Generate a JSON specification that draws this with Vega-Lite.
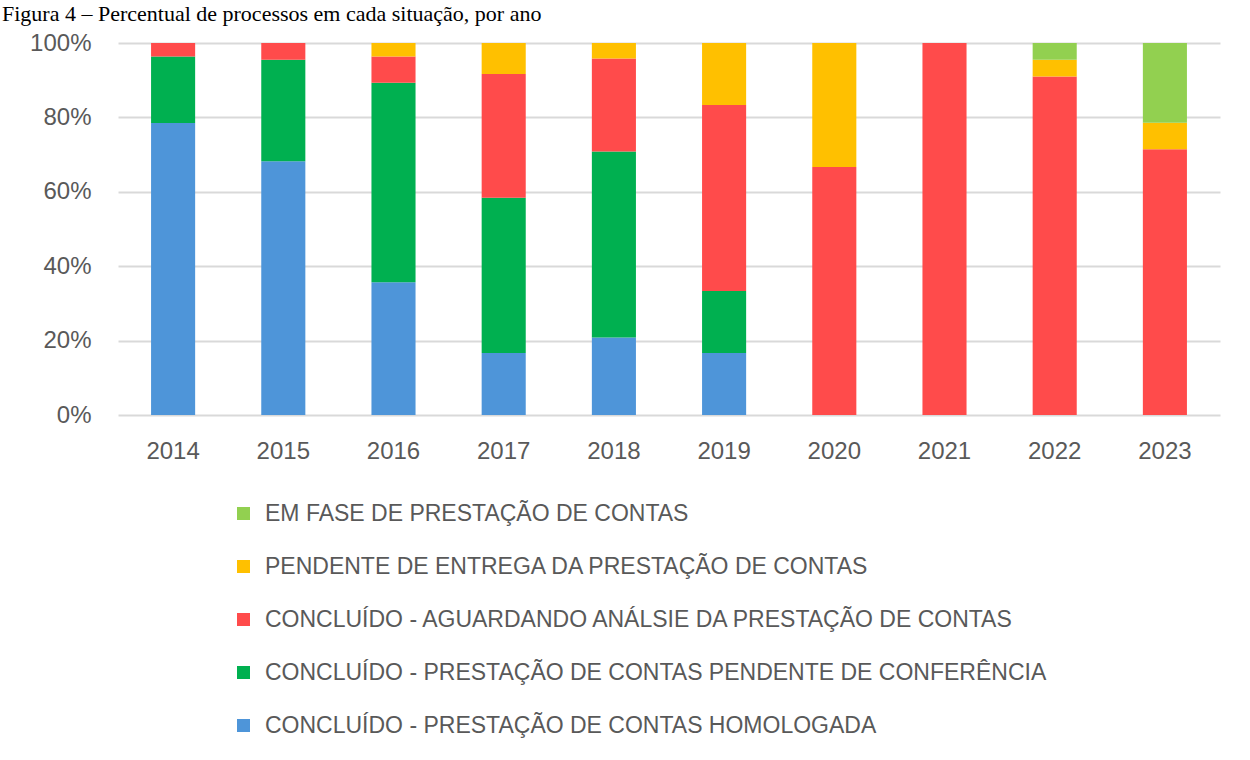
{
  "$schema": "https://vega.github.io/schema/vega-lite/v6.json",
  "width": 1102,
  "height": 372,
  "autosize": {"type": "none"},
  "padding": {"left": 118, "top": 43, "right": 30, "bottom": 345},
  "background": "white",
  "title": {
    "text": "Figura 4 – Percentual de processos em cada situação, por ano",
    "font": "Liberation Serif",
    "fontSize": 22,
    "fontWeight": "normal",
    "color": "black",
    "anchor": "start",
    "frame": "group",
    "baseline": "alphabetic",
    "dx": -116,
    "dy": 18,
    "offset": 6
  },
  "config": {
    "view": {"stroke": null},
    "font": "Liberation Sans"
  },
  "data": {
    "values": [
      {"ano": "2014", "situacao": "CONCLUÍDO - PRESTAÇÃO DE CONTAS  HOMOLOGADA", "ordem": 1, "pct": 78.6},
      {"ano": "2014", "situacao": "CONCLUÍDO - PRESTAÇÃO DE CONTAS PENDENTE DE CONFERÊNCIA", "ordem": 2, "pct": 17.9},
      {"ano": "2014", "situacao": "CONCLUÍDO - AGUARDANDO ANÁLSIE DA PRESTAÇÃO DE CONTAS", "ordem": 3, "pct": 3.6},
      {"ano": "2015", "situacao": "CONCLUÍDO - PRESTAÇÃO DE CONTAS  HOMOLOGADA", "ordem": 1, "pct": 68.2},
      {"ano": "2015", "situacao": "CONCLUÍDO - PRESTAÇÃO DE CONTAS PENDENTE DE CONFERÊNCIA", "ordem": 2, "pct": 27.3},
      {"ano": "2015", "situacao": "CONCLUÍDO - AGUARDANDO ANÁLSIE DA PRESTAÇÃO DE CONTAS", "ordem": 3, "pct": 4.5},
      {"ano": "2016", "situacao": "CONCLUÍDO - PRESTAÇÃO DE CONTAS  HOMOLOGADA", "ordem": 1, "pct": 35.7},
      {"ano": "2016", "situacao": "CONCLUÍDO - PRESTAÇÃO DE CONTAS PENDENTE DE CONFERÊNCIA", "ordem": 2, "pct": 53.6},
      {"ano": "2016", "situacao": "CONCLUÍDO - AGUARDANDO ANÁLSIE DA PRESTAÇÃO DE CONTAS", "ordem": 3, "pct": 7.1},
      {"ano": "2016", "situacao": "PENDENTE DE ENTREGA DA PRESTAÇÃO DE CONTAS", "ordem": 4, "pct": 3.6},
      {"ano": "2017", "situacao": "CONCLUÍDO - PRESTAÇÃO DE CONTAS  HOMOLOGADA", "ordem": 1, "pct": 16.7},
      {"ano": "2017", "situacao": "CONCLUÍDO - PRESTAÇÃO DE CONTAS PENDENTE DE CONFERÊNCIA", "ordem": 2, "pct": 41.7},
      {"ano": "2017", "situacao": "CONCLUÍDO - AGUARDANDO ANÁLSIE DA PRESTAÇÃO DE CONTAS", "ordem": 3, "pct": 33.3},
      {"ano": "2017", "situacao": "PENDENTE DE ENTREGA DA PRESTAÇÃO DE CONTAS", "ordem": 4, "pct": 8.3},
      {"ano": "2018", "situacao": "CONCLUÍDO - PRESTAÇÃO DE CONTAS  HOMOLOGADA", "ordem": 1, "pct": 20.8},
      {"ano": "2018", "situacao": "CONCLUÍDO - PRESTAÇÃO DE CONTAS PENDENTE DE CONFERÊNCIA", "ordem": 2, "pct": 50.0},
      {"ano": "2018", "situacao": "CONCLUÍDO - AGUARDANDO ANÁLSIE DA PRESTAÇÃO DE CONTAS", "ordem": 3, "pct": 25.0},
      {"ano": "2018", "situacao": "PENDENTE DE ENTREGA DA PRESTAÇÃO DE CONTAS", "ordem": 4, "pct": 4.2},
      {"ano": "2019", "situacao": "CONCLUÍDO - PRESTAÇÃO DE CONTAS  HOMOLOGADA", "ordem": 1, "pct": 16.7},
      {"ano": "2019", "situacao": "CONCLUÍDO - PRESTAÇÃO DE CONTAS PENDENTE DE CONFERÊNCIA", "ordem": 2, "pct": 16.7},
      {"ano": "2019", "situacao": "CONCLUÍDO - AGUARDANDO ANÁLSIE DA PRESTAÇÃO DE CONTAS", "ordem": 3, "pct": 50.0},
      {"ano": "2019", "situacao": "PENDENTE DE ENTREGA DA PRESTAÇÃO DE CONTAS", "ordem": 4, "pct": 16.7},
      {"ano": "2020", "situacao": "CONCLUÍDO - AGUARDANDO ANÁLSIE DA PRESTAÇÃO DE CONTAS", "ordem": 3, "pct": 66.7},
      {"ano": "2020", "situacao": "PENDENTE DE ENTREGA DA PRESTAÇÃO DE CONTAS", "ordem": 4, "pct": 33.3},
      {"ano": "2021", "situacao": "CONCLUÍDO - AGUARDANDO ANÁLSIE DA PRESTAÇÃO DE CONTAS", "ordem": 3, "pct": 100.0},
      {"ano": "2022", "situacao": "CONCLUÍDO - AGUARDANDO ANÁLSIE DA PRESTAÇÃO DE CONTAS", "ordem": 3, "pct": 90.9},
      {"ano": "2022", "situacao": "PENDENTE DE ENTREGA DA PRESTAÇÃO DE CONTAS", "ordem": 4, "pct": 4.5},
      {"ano": "2022", "situacao": "EM FASE DE PRESTAÇÃO DE CONTAS", "ordem": 5, "pct": 4.5},
      {"ano": "2023", "situacao": "CONCLUÍDO - AGUARDANDO ANÁLSIE DA PRESTAÇÃO DE CONTAS", "ordem": 3, "pct": 71.4},
      {"ano": "2023", "situacao": "PENDENTE DE ENTREGA DA PRESTAÇÃO DE CONTAS", "ordem": 4, "pct": 7.1},
      {"ano": "2023", "situacao": "EM FASE DE PRESTAÇÃO DE CONTAS", "ordem": 5, "pct": 21.4}
    ]
  },
  "mark": {"type": "bar"},
  "encoding": {
    "x": {
      "field": "ano",
      "type": "ordinal",
      "scale": {"paddingInner": 0.6, "paddingOuter": 0.3},
      "axis": {
        "title": null,
        "labelAngle": 0,
        "domain": false,
        "ticks": false,
        "labelFontSize": 24,
        "labelColor": "#595959",
        "labelPadding": 24,
        "labelFont": "Liberation Sans"
      }
    },
    "y": {
      "field": "pct",
      "type": "quantitative",
      "stack": "normalize",
      "scale": {"domain": [0, 1]},
      "axis": {
        "title": null,
        "format": ".0%",
        "values": [0, 0.2, 0.4, 0.6, 0.8, 1],
        "domain": false,
        "ticks": false,
        "gridColor": "#D9D9D9",
        "gridWidth": 2,
        "labelFontSize": 24,
        "labelColor": "#595959",
        "labelPadding": 27,
        "labelFont": "Liberation Sans"
      }
    },
    "color": {
      "field": "situacao",
      "type": "nominal",
      "scale": {
        "domain": [
          "EM FASE DE PRESTAÇÃO DE CONTAS",
          "PENDENTE DE ENTREGA DA PRESTAÇÃO DE CONTAS",
          "CONCLUÍDO - AGUARDANDO ANÁLSIE DA PRESTAÇÃO DE CONTAS",
          "CONCLUÍDO - PRESTAÇÃO DE CONTAS PENDENTE DE CONFERÊNCIA",
          "CONCLUÍDO - PRESTAÇÃO DE CONTAS  HOMOLOGADA"
        ],
        "range": ["#92D050", "#FFC000", "#FF4B4B", "#00B050", "#4E95D9"]
      },
      "legend": {
        "orient": "none",
        "legendX": 114,
        "legendY": 459,
        "title": null,
        "symbolType": "square",
        "symbolSize": 169,
        "symbolStrokeWidth": 0,
        "labelFontSize": 23,
        "labelColor": "#595959",
        "labelFont": "Liberation Sans",
        "labelOffset": 10,
        "rowPadding": 29,
        "labelLimit": 1000,
        "padding": 0
      }
    },
    "order": {"field": "ordem", "type": "quantitative"}
  }
}
